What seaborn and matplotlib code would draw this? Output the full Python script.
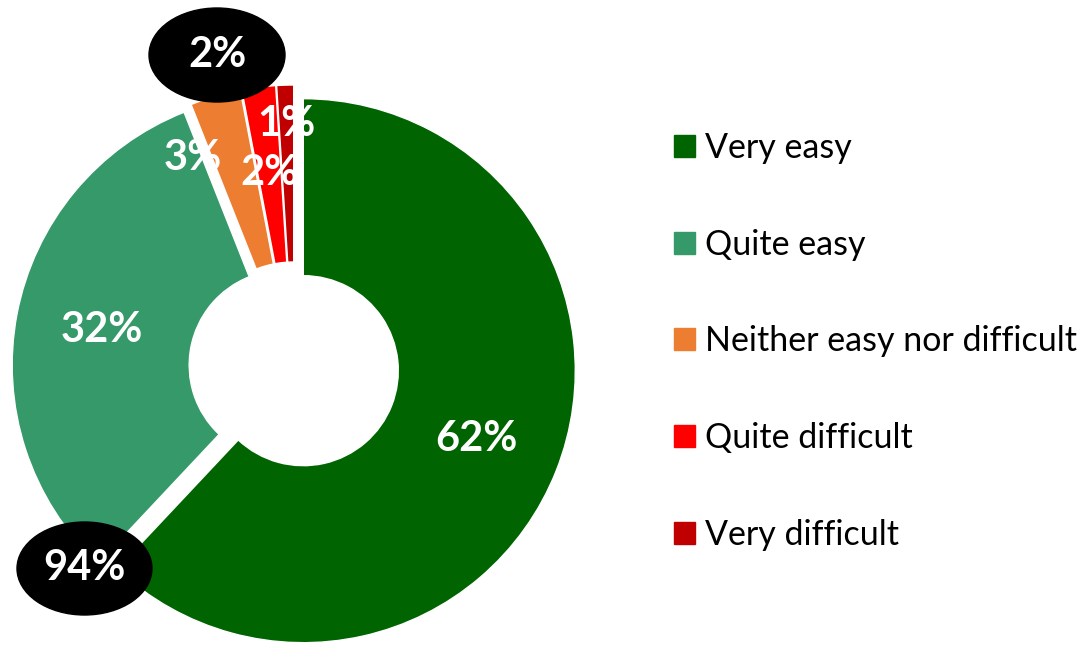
import matplotlib
matplotlib.use("Agg")
import matplotlib.pyplot as plt
import matplotlib.patches as mpatches
import seaborn as sns
import numpy as np

# Dados
categorias = ["Very easy", "Quite easy", "Neither easy nor difficult",
              "Quite difficult", "Very difficult"]
valores = [62, 32, 3, 2, 1]
cores = ["#006400", "#36996A", "#ED7D31", "#FF0000", "#C00000"]
total_facil = "94%"
total_dificil = "2%"

sns.set_theme(style="white")
plt.rcParams["font.family"] = ["Lato", "DejaVu Sans"]

W, H = 1082, 645
fig = plt.figure(figsize=(W / 100, H / 100), dpi=100)
ax = fig.add_axes([0, 0, 1, 1])

cx, cy, R, anel = 294, H - 367, 272, 177
wedges, _ = ax.pie(valores, colors=cores, startangle=90, counterclock=False,
                   radius=R, center=(cx, cy), explode=[10] * len(valores),
                   wedgeprops=dict(width=anel, edgecolor="white", linewidth=1))

# rótulos de porcentagem dentro do anel
lbl_r = [186, 186, 222, 186, 233]
lbl_da = [0, 0, 10, 0, 0]
for w, v, r, da in zip(wedges, valores, lbl_r, lbl_da):
    ang = np.deg2rad((w.theta1 + w.theta2) / 2 + da)
    x = w.center[0] + r * np.cos(ang)
    y = w.center[1] + r * np.sin(ang)
    ax.text(x, y, f"{v}%", color="white", fontsize=30, fontweight="bold",
            ha="center", va="center")

# balões com totais
for (ex, ey, ew, eh), txt in [((217, H - 55, 136, 94), total_dificil),
                              ((84.5, H - 568.5, 135, 93), total_facil)]:
    ax.add_patch(mpatches.Ellipse((ex, ey), ew, eh, color="black", zorder=5))
    ax.text(ex, ey, txt, color="white", fontsize=30, fontweight="bold",
            ha="center", va="center", zorder=6)

handles = [mpatches.Patch(color=c) for c in cores]
leg = ax.legend(handles, categorias,
                loc="upper left", bbox_to_anchor=(674 / W, 1 - 132 / H),
                frameon=False, fontsize=24.5, handlelength=0.62, handleheight=0.62,
                handletextpad=0.3, labelspacing=1.9, borderpad=0, borderaxespad=0,
                labelcolor="black")

ax.set_xlim(0, W)
ax.set_ylim(0, H)
ax.set_aspect("equal")
ax.axis("off")

fig.savefig("out.png", dpi=100)
